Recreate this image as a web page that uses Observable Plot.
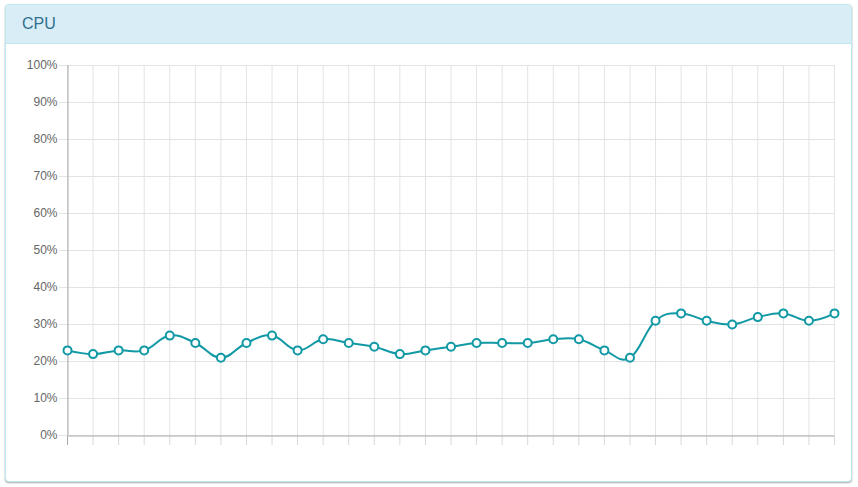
<!DOCTYPE html>
<html>
<head>
<meta charset="utf-8">
<script src="https://cdn.jsdelivr.net/npm/d3@7"></script>
<script src="https://cdn.jsdelivr.net/npm/@observablehq/plot@0.6"></script>
<style>
  html, body { margin: 0; padding: 0; background: #fff; width: 858px; height: 487px; overflow: hidden; }
  #panel { position: absolute; left: 5px; top: 4px; width: 845px; height: 476px; border: 1px solid #bce8f1; border-radius: 4px; background: #fff; box-shadow: 0 1px 2px rgba(0,0,0,0.35); }
  #head { height: 38px; background: #d9edf7; border-bottom: 1px solid #bce8f1; border-radius: 3px 3px 0 0; color: #31708f; font-family: "Liberation Sans", Arial, sans-serif; font-size: 16px; line-height: 38px; padding-left: 16px; }
  #chart { position: absolute; left: 0; top: 0; }
</style>
</head>
<body>
<div id="panel"><div id="head">CPU</div></div>
<div id="chart"></div>
<script>
const cpuValues = [23, 22, 23, 23, 27, 25, 21, 25, 27, 23, 26, 25, 24, 22, 23, 24, 25, 25, 25, 26, 26, 23, 21, 31, 33, 31, 30, 32, 33, 31, 33];
const yTicks = [0, 10, 20, 30, 40, 50, 60, 70, 80, 90, 100];

const data = cpuValues.map((v, i) => ({i, v}));
const idx = data.map(d => d.i);
const last = cpuValues.length - 1;
const color = "#1199a5";

const plot = Plot.plot({
  width: 858,
  height: 487,
  marginLeft: 67,
  marginRight: 24,
  marginTop: 65,
  marginBottom: 52,
  style: {background: "transparent", fontFamily: "'Liberation Sans', Arial, sans-serif", fontSize: "12px", color: "#666"},
  x: {type: "linear", domain: [0, last], axis: null},
  y: {type: "linear", domain: [0, 100], axis: null},
  marks: [
    // vertical grid lines + ticks extending below the axis
    Plot.ruleX(idx, {x: d => d, render: (index, scales, values) => {
      const g = d3.create("svg:g");
      const yTop = scales.y(100), y0 = scales.y(0);
      for (const k of index) {
        const xv = values.x[k] + 0.5;
        g.append("line").attr("x1", xv).attr("x2", xv).attr("y1", yTop).attr("y2", y0).attr("stroke", "#e3e3e3");
        g.append("line").attr("x1", xv).attr("x2", xv).attr("y1", y0).attr("y2", y0 + 10)
          .attr("stroke", idx[k] === 0 ? "#a8a8a8" : "#d8d8d8");
      }
      return g.node();
    }}),
    // horizontal grid lines + short ticks to the left
    Plot.ruleY(yTicks, {y: d => d, render: (index, scales, values) => {
      const g = d3.create("svg:g");
      const x0 = scales.x(0), x1 = scales.x(last);
      for (const k of index) {
        const yv = Math.round(values.y[k]) + 0.5;
        g.append("line").attr("x1", x0 - 8).attr("x2", x1).attr("y1", yv).attr("y2", yv).attr("stroke", "#e3e3e3");
      }
      return g.node();
    }}),
    Plot.ruleY([0], {x1: 0, x2: last, stroke: "#aaa", dy: 0.5}),
    Plot.ruleX([0], {y1: 0, y2: 100, stroke: "#aaa", dx: 0.5}),
    Plot.text(yTicks, {x: 0, y: d => d, text: d => d + "%", textAnchor: "end", dx: -10, fill: "#666", fontSize: 12}),
    Plot.line(data, {x: "i", y: "v", stroke: color, strokeWidth: 2, curve: "cardinal", tension: -0.2}),
    Plot.dot(data, {x: "i", y: "v", r: 4, fill: "#fff", stroke: color, strokeWidth: 2})
  ]
});
document.getElementById("chart").appendChild(plot);
</script>
</body>
</html>
